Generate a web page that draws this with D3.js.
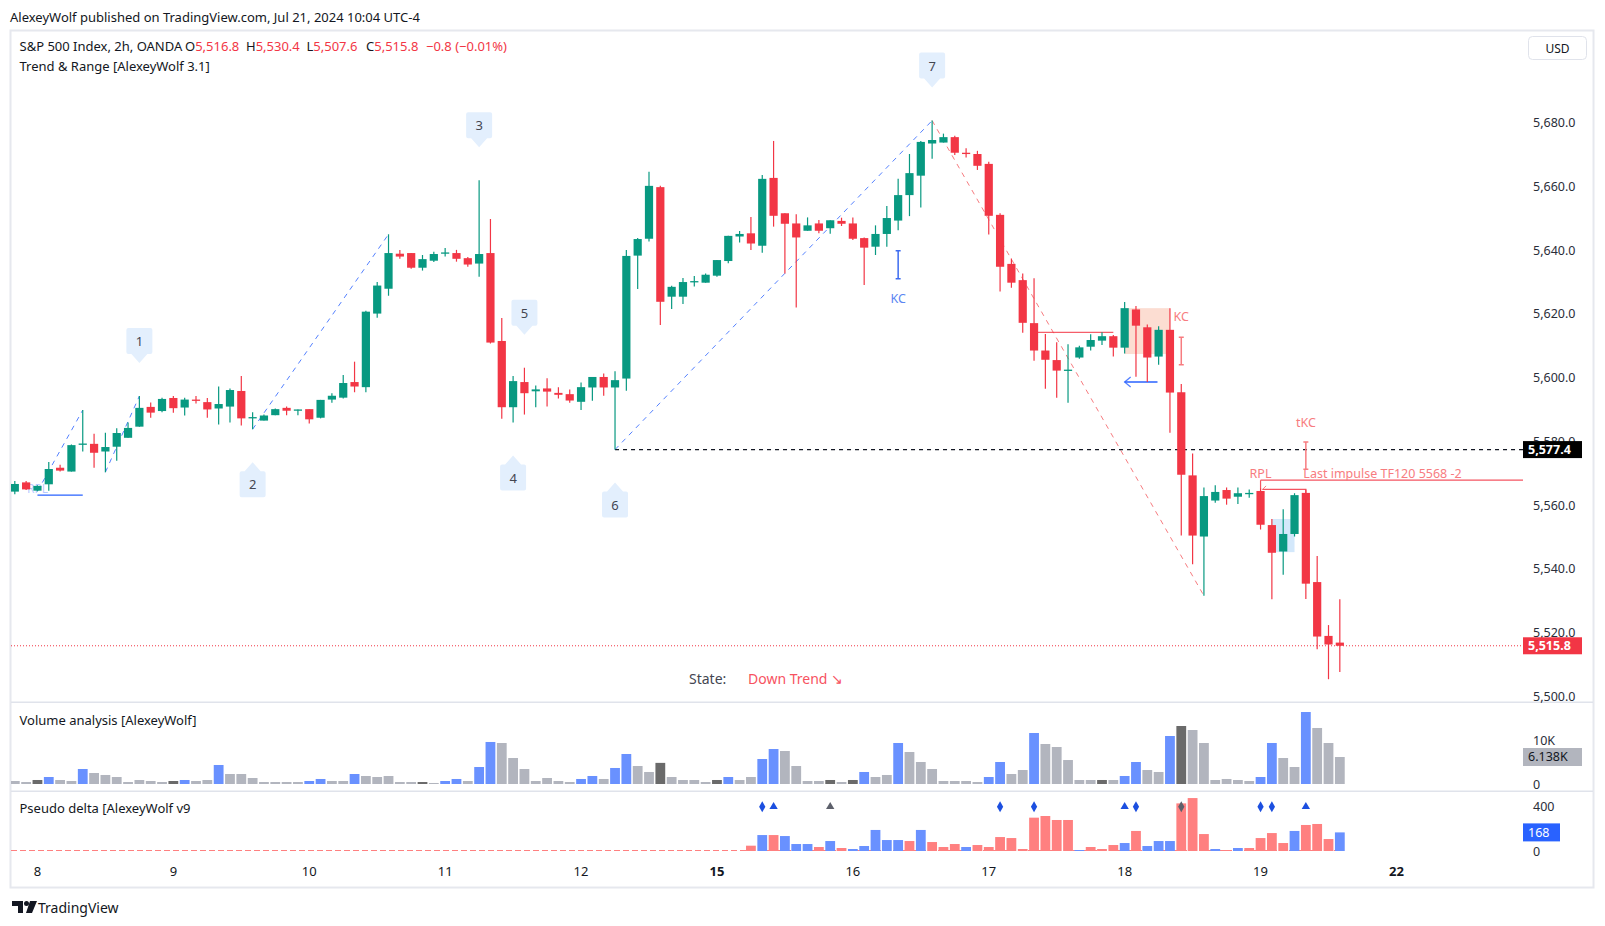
<!DOCTYPE html>
<html><head><meta charset="utf-8">
<script src="https://cdn.jsdelivr.net/npm/d3@7/dist/d3.min.js"></script>
<style>
html,body{margin:0;padding:0;background:#fff;}
svg{display:block;font-family:"Noto Sans",sans-serif;}
</style></head><body>
<svg id="c" width="1605" height="926"></svg>
<script>
// ---------------- DATA ----------------
const open  = [5564.2,5567.1,5564.5,5566.5,5571.7,5570.5,5579.0,5579.2,5576.8,5578.3,5581.1,5584.6,5590.8,5589.5,5593.6,5590.6,5593.1,5592.3,5590.3,5590.9,5595.8,5587.4,5586.5,5588.2,5590.5,5589.8,5590.1,5587.4,5593.1,5593.7,5598.6,5597.0,5620.1,5627.9,5638.9,5639.1,5634.5,5636.7,5639.1,5639.1,5637.5,5635.8,5639.1,5611.5,5590.7,5598.6,5595.7,5596.6,5595.2,5594.8,5592.4,5596.9,5600.2,5596.9,5599.7,5638.3,5643.6,5659.8,5625.4,5625.4,5630.1,5629.8,5632.0,5636.6,5644.3,5645.3,5641.4,5662.7,5651.6,5648.4,5646.1,5648.4,5646.9,5649.2,5648.4,5643.8,5641.1,5645.1,5649.3,5657.3,5663.4,5673.5,5673.8,5675.5,5670.6,5670.2,5667.1,5651.1,5635.7,5630.6,5617.1,5608.5,5605.5,5602.3,5606.3,5609.7,5611.6,5613.0,5609.4,5621.4,5615.8,5606.6,5615.0,5595.4,5569.3,5550.1,5561.4,5564.7,5562.6,5563.6,5564.4,5553.7,5545.4,5550.9,5563.8,5535.8,5518.9,5516.8];
const high  = [5567.5,5567.5,5566.2,5573.5,5572.6,5579.0,5589.8,5582.4,5582.7,5584.1,5585.9,5594.2,5592.2,5593.7,5594.2,5593.7,5594.2,5593.6,5597.2,5596.6,5600.5,5589.1,5588.4,5590.3,5590.9,5590.0,5590.1,5593.0,5595.1,5600.8,5605.0,5621.0,5630.0,5645.0,5640.1,5639.1,5638.5,5639.5,5640.7,5640.1,5637.9,5662.0,5649.8,5618.7,5600.5,5603.1,5597.5,5599.8,5597.0,5596.3,5598.5,5600.2,5601.3,5602.0,5640.1,5643.8,5664.6,5660.2,5628.8,5631.3,5631.9,5632.7,5636.9,5644.5,5646.0,5650.4,5663.6,5674.3,5651.6,5651.3,5650.3,5649.5,5649.4,5650.2,5650.3,5644.0,5647.8,5653.9,5662.4,5670.2,5674.3,5680.7,5676.6,5675.9,5672.0,5671.2,5667.8,5651.6,5637.4,5632.7,5631.2,5613.7,5611.1,5610.5,5610.0,5613.6,5614.2,5613.4,5623.7,5622.5,5616.7,5616.1,5621.8,5598.0,5576.2,5565.5,5566.2,5565.5,5565.5,5564.9,5565.2,5555.6,5558.7,5563.7,5564.9,5544.0,5522.3,5530.4];
const low   = [5563.4,5564.7,5564.3,5564.5,5570.5,5570.5,5576.8,5571.7,5570.3,5573.9,5581.1,5584.6,5587.4,5589.1,5589.0,5588.1,5591.9,5587.4,5585.3,5585.9,5585.0,5583.8,5586.5,5588.2,5588.2,5588.2,5585.6,5587.2,5592.1,5593.4,5595.4,5595.4,5618.8,5625.7,5637.3,5634.2,5633.6,5636.3,5638.0,5636.4,5634.8,5631.7,5610.7,5587.1,5585.9,5588.4,5590.7,5590.9,5593.4,5592.1,5589.8,5592.7,5594.3,5577.4,5595.9,5627.8,5642.7,5616.5,5621.5,5623.1,5628.6,5629.8,5631.7,5635.9,5642.4,5640.1,5639.2,5647.4,5632.7,5622.0,5646.1,5645.3,5645.2,5647.6,5643.2,5629.1,5638.5,5641.1,5646.3,5650.7,5653.4,5668.7,5673.8,5669.9,5669.1,5665.2,5644.9,5627.0,5628.2,5614.1,5605.3,5596.5,5593.7,5592.1,5605.9,5608.5,5610.2,5606.6,5607.6,5600.3,5598.6,5604.0,5582.7,5550.4,5541.4,5531.5,5560.7,5560.1,5560.3,5562.3,5552.3,5530.4,5538.1,5550.1,5530.5,5514.7,5505.3,5507.6];
const close = [5566.6,5564.9,5566.0,5571.3,5570.8,5578.8,5579.3,5576.4,5578.2,5582.6,5584.2,5590.5,5589.0,5593.3,5590.4,5593.1,5592.8,5590.0,5591.7,5596.1,5587.2,5587.6,5588.1,5590.1,5589.6,5590.0,5586.9,5593.0,5594.3,5598.3,5597.2,5620.7,5628.9,5639.1,5638.0,5634.5,5637.2,5638.8,5639.3,5637.3,5635.5,5638.8,5611.0,5590.7,5598.9,5595.1,5596.3,5595.6,5594.6,5592.8,5597.0,5600.2,5596.9,5599.2,5638.2,5643.5,5660.2,5623.8,5628.5,5630.0,5630.3,5632.3,5636.9,5644.5,5645.1,5642.1,5662.4,5650.8,5648.3,5644.0,5647.8,5646.1,5649.4,5648.3,5643.6,5640.8,5645.1,5650.1,5657.3,5664.2,5674.0,5674.6,5675.5,5670.6,5670.4,5666.5,5650.8,5634.8,5629.8,5617.2,5608.5,5605.6,5602.2,5602.5,5609.5,5611.8,5613.0,5609.4,5621.8,5616.3,5606.3,5615.0,5595.3,5569.5,5550.4,5562.8,5564.1,5562.0,5563.7,5563.8,5553.8,5545.0,5550.9,5563.1,5535.3,5518.7,5516.2,5515.8];
// volume in thousands
const volume = [0.68,0.45,0.91,1.59,0.91,0.68,3.41,2.5,2.05,1.59,0.45,0.91,0.68,0.45,0.68,0.91,0.68,0.91,4.32,2.27,2.27,1.36,0.45,0.45,0.45,0.45,0.68,1.14,0.68,0.68,2.27,1.82,1.59,1.82,0.45,0.45,0.45,0.23,0.68,1.14,0.68,3.86,9.55,9.32,5.91,3.41,0.68,1.36,0.68,0.45,1.14,1.82,1.14,3.64,6.82,4.09,2.73,4.8,1.59,0.91,0.91,0.45,0.91,1.59,0.91,1.59,5.68,7.95,7.5,4.09,0.68,0.68,0.91,0.45,0.91,2.73,1.59,2.05,9.32,7.27,5.0,3.41,0.68,0.68,0.68,0.45,1.59,5.0,2.27,3.18,11.59,9.09,8.41,5.45,0.91,0.91,0.91,0.91,1.82,5.0,3.18,2.73,10.91,13.18,12.27,9.32,0.91,1.14,0.91,0.68,1.59,9.32,5.91,3.86,16.36,12.73,9.32,6.138];
// g = normal, b = high-volume up, d = dark
const volKind = ["g","g","d","b","g","g","b","g","g","g","g","g","g","g","d","b","g","g","b","g","g","g","g","g","g","g","b","b","g","g","b","g","g","g","g","g","d","g","b","b","g","b","b","g","g","g","g","g","g","g","b","b","g","b","b","g","g","d","g","g","g","g","d","b","g","g","b","b","g","g","g","g","d","g","d","b","g","g","b","g","g","g","g","g","g","g","b","b","g","g","b","g","g","g","g","g","d","g","b","b","g","g","b","d","g","g","g","g","g","g","b","b","g","g","b","g","g","g"];
// pseudo delta (positive = buy/blue, negative = sell/red)
const delta = [0,0,0,0,0,0,0,0,0,0,0,0,0,0,0,0,0,0,0,0,0,0,0,0,0,0,0,0,0,0,0,0,0,0,0,0,0,0,0,0,0,0,0,0,0,0,0,0,0,0,0,0,0,0,0,0,0,0,0,0,0,0,0,0,0,-48,144,-144,135,63,63,-36,90,-27,18,45,190,99,99,-90,190,-81,-36,-63,36,-54,-36,-126,-117,-18,-301,-316,-280,-280,9,-36,-18,-54,72,-181,45,90,90,-430,-478,-153,18,-9,27,-27,-117,-162,-72,181,-235,-244,-108,168];
const markerBars  = [66,67,72,87,90,98,99,103,110,111,114];
const markerKinds = ["diamond","triangle","triangle","diamond","diamond","triangle","diamond","diamond","diamond","diamond","triangle"];
const markerGray  = [false,false,true,false,false,false,false,true,false,false,false];
const dayTickBars = [2,14,26,38,50,62,74,86,98,110,122];
const dayLabels   = ["8","9","10","11","12","15","16","17","18","19","22"];
const priceTicks  = [5500,5520,5540,5560,5580,5600,5620,5640,5660,5680];
const volTicks = [0,10]; const volTickLabels=["0","10K"];
const deltaTicks = [0,400];
const waveBars  = [11,21,41,44,45,53,81];
const waveNames = ["1","2","3","4","5","6","7"];
const waveAbove = [true,false,true,false,true,false,true];
const impulseLines = [[2,"low",6,"high"],[8,"low",11,"high"],[21,"low",33,"high"],[53,"low",81,"high"]];
const correctionLines = [[81,"high",105,"low"]];
const levelPrice = 5577.4, lastPrice = 5515.8, lastVolume = 6.138, lastDelta = 168;

// ---------------- SETUP ----------------
const svg = d3.select("#c");
const GREEN="#089981", RED="#f23645", BLUE="#2962ff";
const plotL=11, plotR=1523;
const x = d3.scaleLinear().domain([0,122]).range([14.8, 14.8+122*11.325]);
const y = d3.scaleLinear().domain([5500,5680]).range([696.1,122.8]);
const yv = d3.scaleLinear().domain([0,10]).range([784,740]);
const yd = d3.scaleLinear().domain([0,400]).range([851,806.7]);
const idx = d3.range(open.length);
const series = {open,high,low,close};

const defs = svg.append("defs");
defs.append("clipPath").attr("id","cp").append("rect").attr("x",plotL).attr("y",31).attr("width",plotR-plotL).attr("height",671);
defs.append("clipPath").attr("id","cv").append("rect").attr("x",plotL).attr("y",703).attr("width",plotR-plotL).attr("height",87);
defs.append("clipPath").attr("id","cd").append("rect").attr("x",plotL).attr("y",792).attr("width",plotR-plotL).attr("height",62);

// header
svg.append("text").attr("x",10).attr("y",16.5).attr("dominant-baseline","central")
  .attr("font-size",13).attr("fill","#131722").text("AlexeyWolf published on TradingView.com, Jul 21, 2024 10:04 UTC-4");

// frame
svg.append("rect").attr("x",10.5).attr("y",30.5).attr("width",1583).attr("height",857)
  .attr("fill","none").attr("stroke","#e6e8ee").attr("stroke-width",2);
// pane separators
[702.3,791.3].forEach(v=>svg.append("line").attr("x1",11).attr("x2",1593).attr("y1",v).attr("y2",v).attr("stroke","#e0e3eb").attr("stroke-width",1.5));

// legend
const leg = svg.append("text").attr("x",19.5).attr("y",46).attr("dominant-baseline","central").attr("font-size",13).attr("fill","#131722");
leg.append("tspan").text("S&P 500 Index, 2h, OANDA");
[["O","5,516.8",185],["H","5,530.4",246],["L","5,507.6",306.5],["C","5,515.8",366]].forEach(([k,v,px])=>{
  leg.append("tspan").attr("x",px).attr("fill","#131722").text(k);
  leg.append("tspan").attr("fill",RED).text(v);
});
leg.append("tspan").attr("x",426).attr("fill",RED).text("\u22120.8 (\u22120.01%)");
svg.append("text").attr("x",19.5).attr("y",65.5).attr("dominant-baseline","central").attr("font-size",13).attr("fill","#131722").text("Trend & Range [AlexeyWolf 3.1]");

// USD box
svg.append("rect").attr("x",1528.5).attr("y",36.5).attr("width",58).attr("height",23).attr("rx",4).attr("fill","#fff").attr("stroke","#e0e3eb");
svg.append("text").attr("x",1557.5).attr("y",48).attr("text-anchor","middle").attr("dominant-baseline","central").attr("font-size",12).attr("fill","#131722").text("USD");

// ---------------- PRICE PANE ----------------
const gp = svg.append("g").attr("clip-path","url(#cp)");
// boxes
gp.append("rect").attr("x",x(98)).attr("width",x(102)-x(98)).attr("y",y(5621.8)).attr("height",y(5607.4)-y(5621.8)).attr("fill","#fcddd2");
gp.append("rect").attr("x",x(111)).attr("width",x(113)-x(111)).attr("y",y(5555.6)).attr("height",y(5545.2)-y(5555.6)).attr("fill","#d3e8fb");

// trend lines
impulseLines.forEach(([a,sa,b,sb])=>{
  gp.append("line").attr("x1",x(a)).attr("y1",y(series[sa][a])).attr("x2",x(b)).attr("y2",y(series[sb][b]))
    .attr("stroke",BLUE).attr("stroke-opacity",0.8).attr("stroke-width",1).attr("stroke-dasharray","5,5");
});
correctionLines.forEach(([a,sa,b,sb])=>{
  gp.append("line").attr("x1",x(a)).attr("y1",y(series[sa][a])).attr("x2",x(b)).attr("y2",y(series[sb][b]))
    .attr("stroke","#f77c80").attr("stroke-width",1).attr("stroke-dasharray","5,5");
});
// key level
gp.append("line").attr("x1",x(53)).attr("x2",plotR).attr("y1",y(levelPrice)).attr("y2",y(levelPrice))
  .attr("stroke","#131722").attr("stroke-width",1.2).attr("stroke-dasharray","4,4");
// last price dotted
gp.append("line").attr("x1",plotL).attr("x2",plotR).attr("y1",y(lastPrice)).attr("y2",y(lastPrice))
  .attr("stroke",RED).attr("stroke-width",1).attr("stroke-dasharray","1,2");

// left blue RPL
gp.append("text").attr("x",x(2)).attr("y",y(5565.2)).attr("text-anchor","middle").attr("dominant-baseline","central")
  .attr("font-size",12).attr("fill",BLUE).attr("fill-opacity",0.35).text("RPL");
gp.append("line").attr("x1",x(2)).attr("x2",x(6)).attr("y1",y(5563.1)).attr("y2",y(5563.1)).attr("stroke",BLUE).attr("stroke-width",1.2);

// red KC level line
gp.append("line").attr("x1",x(90)).attr("x2",x(97)).attr("y1",y(5614.2)).attr("y2",y(5614.2)).attr("stroke",RED).attr("stroke-opacity",0.8).attr("stroke-width",1.2);
// blue arrow
const ay=y(5598.6);
gp.append("line").attr("x1",x(98)).attr("x2",x(100.9)).attr("y1",ay).attr("y2",ay).attr("stroke",BLUE).attr("stroke-width",1.5);
gp.append("path").attr("d",`M${x(98)+6},${ay-5}L${x(98)},${ay}L${x(98)+6},${ay+5}`).attr("fill","none").attr("stroke",BLUE).attr("stroke-width",1.3).attr("stroke-opacity",0.8);

// RPL red lines
const rplY=y(5567.8), rpl2=y(5564.9);
gp.append("line").attr("x1",x(110)).attr("x2",plotR).attr("y1",rplY).attr("y2",rplY).attr("stroke",RED).attr("stroke-opacity",0.85).attr("stroke-width",1.2);
gp.append("path").attr("d",`M${x(110)},${rplY}V${rpl2}M${x(110)+2},${rpl2}H${x(114)}V${y(5563.8)}`).attr("fill","none").attr("stroke",RED).attr("stroke-opacity",0.85).attr("stroke-width",1.2);
gp.append("path").attr("d",`M${x(110)+1.5},${rpl2+0.5}L${x(110)+5.5},${rpl2-3.5}`).attr("stroke","#f77c80").attr("stroke-width",1);

// candles
const cg = gp.append("g").selectAll("g").data(idx).join("g");
cg.append("line").attr("x1",i=>x(i)).attr("x2",i=>x(i)).attr("y1",i=>y(high[i])).attr("y2",i=>y(low[i]))
  .attr("stroke",i=>close[i]>=open[i]?GREEN:RED).attr("stroke-width",1.2);
cg.append("rect").attr("x",i=>x(i)-4.1).attr("width",8.2)
  .attr("y",i=>y(Math.max(open[i],close[i])))
  .attr("height",i=>Math.max(1.3,Math.abs(y(open[i])-y(close[i]))))
  .attr("fill",i=>close[i]>=open[i]?GREEN:RED);

// wave labels
waveBars.forEach((b,j)=>{
  const cx=x(b);
  let d, ty;
  if(waveAbove[j]){
    const tip=y(high[b])-33; ty=tip-22;
    d=`M${cx-13},${tip-35}h26v26h-18l-8,9l-8,-9h-... `;
    d=`M${cx-11},${tip-35}h22a2,2 0 0 1 2,2v22a2,2 0 0 1 -2,2h-3l-8,9l-8,-9h-3a2,2 0 0 1 -2,-2v-22a2,2 0 0 1 2,-2z`;
  } else {
    const tip=y(low[b])+33; ty=tip+22;
    d=`M${cx-11},${tip+35}h22a2,2 0 0 0 2,-2v-22a2,2 0 0 0 -2,-2h-3l-8,-9l-8,9h-3a2,2 0 0 0 -2,2v22a2,2 0 0 0 2,2z`;
  }
  gp.append("path").attr("d",d).attr("fill","#e3effd");
  gp.append("text").attr("x",cx).attr("y",ty).attr("text-anchor","middle").attr("dominant-baseline","central")
    .attr("font-size",13).attr("fill","#434651").text(waveNames[j]);
});

// I-beam helper
function ibeam(b,p1,p2,col){
  const cx=x(b), a=y(p1), c=y(p2);
  gp.append("path").attr("d",`M${cx},${a}V${c}M${cx-2.5},${a}H${cx+2.5}M${cx-2.5},${c}H${cx+2.5}`)
    .attr("fill","none").attr("stroke",col).attr("stroke-width",1.5);
}
ibeam(78,5639.8,5631.0,"#3d6cf0");
gp.append("text").attr("x",x(78)).attr("y",y(5624.7)).attr("text-anchor","middle").attr("dominant-baseline","central").attr("font-size",12.5).attr("fill","#5b86f2").text("KC");
ibeam(103,5612.7,5604.0,"#f77c80");
gp.append("text").attr("x",x(103)).attr("y",y(5619.1)).attr("text-anchor","middle").attr("dominant-baseline","central").attr("font-size",12.5).attr("fill","#f77c80").text("KC");
ibeam(114,5579.8,5571.2,"#f77c80");
gp.append("text").attr("x",x(114)).attr("y",y(5585.8)).attr("text-anchor","middle").attr("dominant-baseline","central").attr("font-size",12.5).attr("fill","#f77c80").text("tKC");
gp.append("text").attr("x",x(110)).attr("y",y(5570.0)).attr("text-anchor","middle").attr("dominant-baseline","central").attr("font-size",12.5).attr("fill","#f77c80").text("RPL");
gp.append("text").attr("x",x(114)-2.5).attr("y",y(5570.0)).attr("dominant-baseline","central").attr("font-size",12.5).attr("fill","#f77c80").text("Last impulse TF120 5568 -2");

// state
const st=svg.append("text").attr("x",689).attr("y",677.6).attr("dominant-baseline","central").attr("font-size",14);
st.append("tspan").attr("fill","#434651").text("State:");
st.append("tspan").attr("x",748).attr("fill","#f7525f").text("Down Trend \u2198");

// price axis
priceTicks.forEach(p=>{
  svg.append("text").attr("x",1533).attr("y",y(p)).attr("dominant-baseline","central").attr("font-size",12.5).attr("fill","#2a2e39").text(d3.format(",.1f")(p));
});
function priceTag(p,bg,fg,txt,w){
  svg.append("rect").attr("x",1523).attr("y",y(p)-8.5).attr("width",w).attr("height",17).attr("fill",bg);
  svg.append("text").attr("x",1528).attr("y",y(p)).attr("dominant-baseline","central").attr("font-size",12.5).attr("font-weight",700).attr("fill",fg).text(txt);
}
priceTag(levelPrice,"#000","#fff",d3.format(",.1f")(levelPrice),59);
priceTag(lastPrice,RED,"#fff",d3.format(",.1f")(lastPrice),59);

// ---------------- VOLUME PANE ----------------
svg.append("text").attr("x",19.5).attr("y",719.6).attr("dominant-baseline","central").attr("font-size",13).attr("fill","#131722").text("Volume analysis [AlexeyWolf]");
const vcol={g:"#b2b5be",b:"#6991ff",d:"#6a6a6a"};
svg.append("g").attr("clip-path","url(#cv)").selectAll("rect").data(idx).join("rect")
  .attr("x",i=>x(i)-4.9).attr("width",9.8).attr("y",i=>yv(volume[i])).attr("height",i=>yv(0)-yv(volume[i]))
  .attr("fill",i=>vcol[volKind[i]]);
volTicks.forEach((t,j)=>svg.append("text").attr("x",1533).attr("y",yv(t)).attr("dominant-baseline","central").attr("font-size",12.5).attr("fill","#2a2e39").text(volTickLabels[j]));
svg.append("rect").attr("x",1523).attr("y",yv(lastVolume)-9).attr("width",59).attr("height",18).attr("fill","#b2b5be");
svg.append("text").attr("x",1528).attr("y",yv(lastVolume)).attr("dominant-baseline","central").attr("font-size",12.5).attr("fill","#131722").text("6.138K");

// ---------------- DELTA PANE ----------------
svg.append("text").attr("x",19.5).attr("y",807.6).attr("dominant-baseline","central").attr("font-size",13).attr("fill","#131722").text("Pseudo delta [AlexeyWolf v9");
const gd=svg.append("g").attr("clip-path","url(#cd)");
gd.append("line").attr("x1",plotL).attr("x2",x(117)).attr("y1",yd(0)-0.5).attr("y2",yd(0)-0.5).attr("stroke","#ff8080").attr("stroke-width",1.2).attr("stroke-dasharray","6,3");
gd.selectAll("rect").data(idx.filter(i=>delta[i]!==0)).join("rect")
  .attr("x",i=>x(i)-4.9).attr("width",9.8).attr("y",i=>yd(Math.abs(delta[i]))).attr("height",i=>yd(0)-yd(Math.abs(delta[i])))
  .attr("fill",i=>delta[i]>0?"#6991ff":"#ff8080");
markerBars.forEach((b,j)=>{
  const sym = markerKinds[j]==="diamond"?d3.symbolDiamond:d3.symbolTriangle;
  svg.append("path").attr("d",d3.symbol().type(sym).size(markerKinds[j]==="diamond"?34:30)())
    .attr("transform",`translate(${x(b)},${yd(400)})`).attr("fill",markerGray[j]?"#5d606b":"#1c4fe0");
});
deltaTicks.forEach(t=>svg.append("text").attr("x",1533).attr("y",yd(t)).attr("dominant-baseline","central").attr("font-size",12.5).attr("fill","#2a2e39").text(t));
svg.append("rect").attr("x",1523).attr("y",yd(lastDelta)-9).attr("width",37).attr("height",18).attr("fill",BLUE);
svg.append("text").attr("x",1528).attr("y",yd(lastDelta)).attr("dominant-baseline","central").attr("font-size",12.5).attr("fill","#fff").text(lastDelta);

// ---------------- TIME AXIS ----------------
dayTickBars.forEach((b,j)=>{
  svg.append("text").attr("x",x(b)).attr("y",871).attr("text-anchor","middle").attr("dominant-baseline","central")
    .attr("font-size",13).attr("font-weight",(dayLabels[j]==="15"||dayLabels[j]==="22")?700:400).attr("fill","#131722").text(dayLabels[j]);
});

// TradingView logo
const lg=svg.append("g").attr("fill","#131722");
lg.append("path").attr("d","M12,901H23V913H18V906H12Z");
lg.append("circle").attr("cx",26.5).attr("cy",903.5).attr("r",2.5);
lg.append("path").attr("d","M30,901H37L32,913H26Z");
svg.append("text").attr("x",38).attr("y",907).attr("dominant-baseline","central").attr("font-size",14).attr("fill","#131722").text("TradingView");
</script>
</body></html>
